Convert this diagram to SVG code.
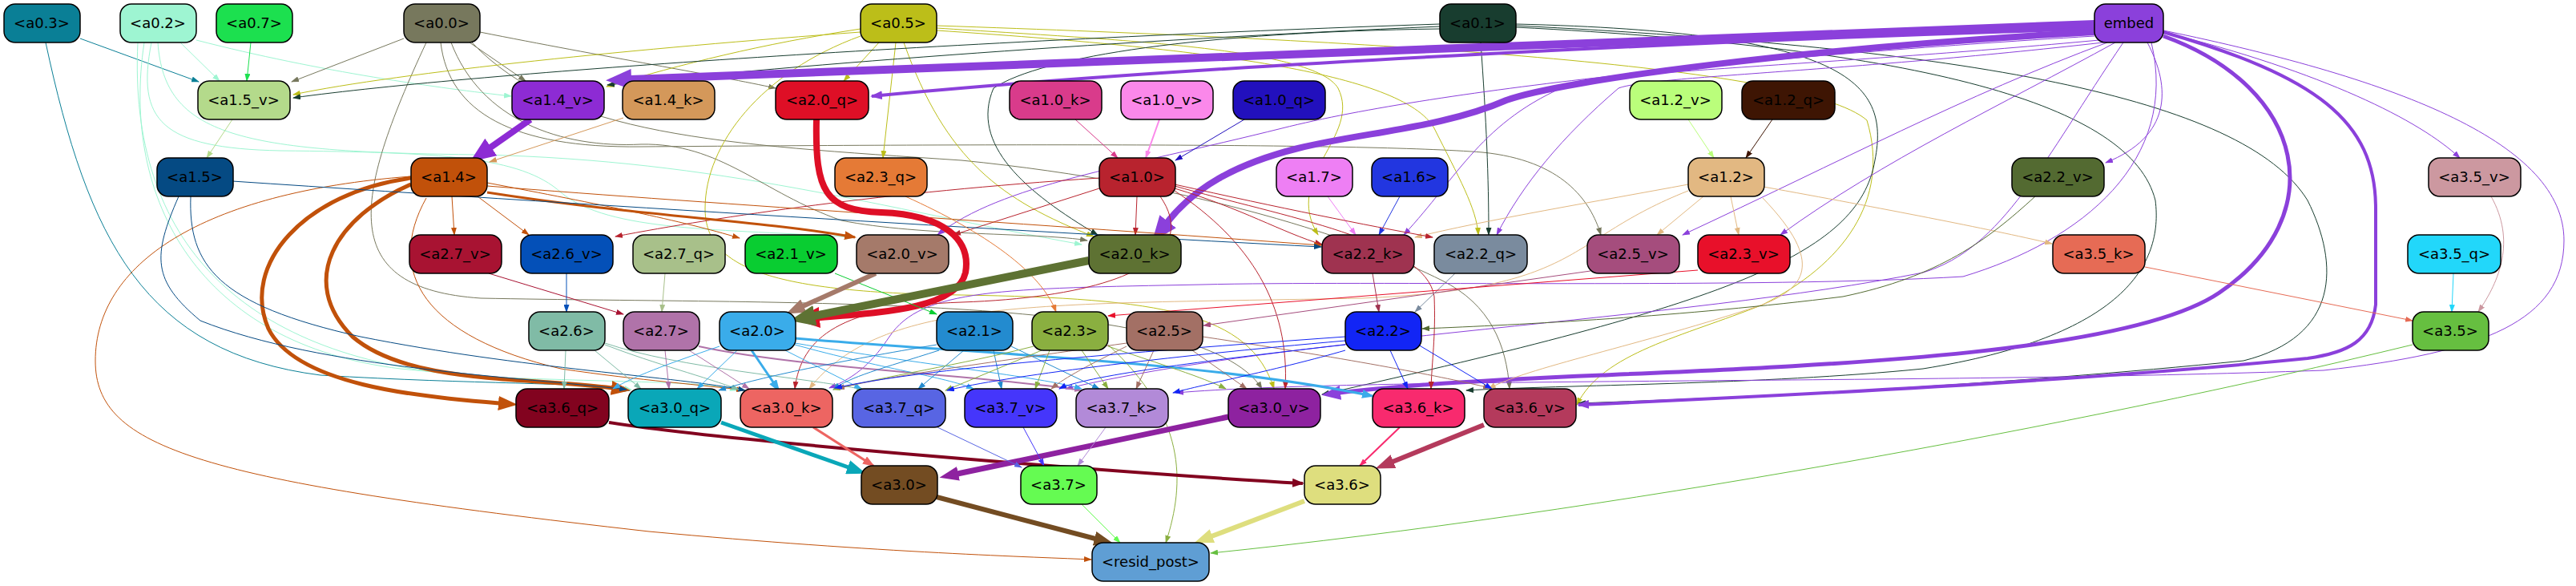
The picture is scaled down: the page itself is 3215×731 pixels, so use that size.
<svg xmlns="http://www.w3.org/2000/svg" width="3215" height="731" viewBox="0 0 3215 731">
<style>
.e{fill:none;marker-end:url(#s)}
.m{marker-end:url(#m)}
.l{marker-end:url(#l)}
.x{marker-end:url(#xl)}
.n rect{stroke:#000;stroke-width:1.5}
.n text{font-family:"DejaVu Sans",sans-serif;font-size:18px;text-anchor:middle;fill:#000}
</style>
<defs>
<marker id="s" viewBox="0 0 10 7" refX="9" refY="3.5" markerWidth="10" markerHeight="7" orient="auto" markerUnits="userSpaceOnUse"><path d="M0,0L10,3.5L0,7z" fill="context-stroke"/></marker>
<marker id="m" viewBox="0 0 15 11" refX="13" refY="5.5" markerWidth="15" markerHeight="11" orient="auto" markerUnits="userSpaceOnUse"><path d="M0,0L15,5.5L0,11z" fill="context-stroke"/></marker>
<marker id="l" viewBox="0 0 24 18" refX="1" refY="9" markerWidth="24" markerHeight="18" orient="auto" markerUnits="userSpaceOnUse"><path d="M0,0L24,9L0,18z" fill="context-stroke"/></marker>
<marker id="xl" viewBox="0 0 32 26" refX="1" refY="13" markerWidth="32" markerHeight="26" orient="auto" markerUnits="userSpaceOnUse"><path d="M0,0L32,13L0,26z" fill="context-stroke"/></marker>
</defs>
<rect width="3215" height="731" fill="#fff"/>
<g id="edges">
<path class="e" stroke="#0a7f96" d="M100,48 L248,102"/>
<path class="e" stroke="#0a7f96" d="M57,53 C110,300 180,440 400,468 C600,480 720,476 786,487"/>
<path class="e" stroke="#9ef5d2" d="M225,53 L274,101"/>
<path class="e" stroke="#9ef5d2" d="M245,50 C400,90 550,110 638,120"/>
<path class="e" stroke="#9ef5d2" d="M189,53 C170,150 200,185 350,188 C550,190 650,195 700,240 C760,290 900,285 1064,296"/>
<path class="e" stroke="#9ef5d2" d="M197,53 C205,170 300,190 600,193 C900,200 1100,260 1350,305"/>
<path class="e" stroke="#9ef5d2" d="M180,53 C150,250 250,430 500,460 C650,475 720,475 788,486"/>
<path class="e" stroke="#9ef5d2" d="M172,53 C160,300 300,450 600,470 C800,478 880,475 920,487"/>
<path class="e" stroke="#1ce04f" d="M313,53 L308,101"/>
<path class="e" stroke="#77785d" d="M504,48 L364,102"/>
<path class="e" stroke="#77785d" d="M586,53 L656,101"/>
<path class="e" stroke="#77785d" d="M599,40 C750,70 900,95 968,110"/>
<path class="e" stroke="#77785d" d="M563,53 C600,150 700,185 800,180 C900,178 950,240 1050,275 C1150,295 1300,290 1357,300"/>
<path class="e" stroke="#77785d" d="M550,53 C560,140 640,185 800,183 C1200,180 1700,178 1850,190 C1950,200 1985,250 1998,293"/>
<path class="e" stroke="#77785d" d="M532,53 C440,250 420,360 600,372 C1000,380 1500,365 1575,485"/>
<path class="e" stroke="#77785d" d="M589,53 C700,170 900,180 1200,200 C1500,230 1700,300 1800,350 C1860,380 1880,430 1884,485"/>
<path class="e" stroke="#bcbe19" d="M1074,40 C800,60 500,90 366,118"/>
<path class="e" stroke="#bcbe19" d="M1074,36 C950,55 850,80 757,108"/>
<path class="e" stroke="#bcbe19" d="M1097,53 L1053,101"/>
<path class="e" stroke="#bcbe19" d="M1118,53 L1102,197"/>
<path class="e" stroke="#bcbe19" d="M1128,53 C1180,200 1250,250 1365,295"/>
<path class="e" stroke="#bcbe19" d="M1074,45 C950,90 880,180 880,260 C880,330 950,365 1200,368 C1450,372 1560,390 1590,485"/>
<path class="e" stroke="#bcbe19" d="M1169,35 C1400,50 1640,60 1670,110 C1700,170 1600,220 1645,293"/>
<path class="e" stroke="#bcbe19" d="M1169,38 C1500,60 1750,90 1790,160 C1820,220 1843,260 1845,293"/>
<path class="e" stroke="#bcbe19" d="M1169,32 C1700,50 2250,80 2330,150 C2360,250 2300,330 2200,380 C2100,420 2000,440 1968,505"/>
<path class="e" stroke="#183d2f" d="M1797,30 C1200,50 600,90 366,122"/>
<path class="e" stroke="#183d2f" d="M1797,33 C1400,50 1000,80 758,106"/>
<path class="e" stroke="#183d2f" d="M1797,36 C1500,40 1300,70 1240,110 C1210,180 1280,240 1370,293"/>
<path class="e" stroke="#183d2f" d="M1848,53 C1855,150 1858,220 1858,293"/>
<path class="e" stroke="#183d2f" d="M1892,30 C2300,40 2360,100 2340,200 C2320,320 2150,380 1650,492"/>
<path class="e" stroke="#183d2f" d="M1892,34 C2400,60 2660,130 2690,250 C2700,330 2650,420 2400,460 C2200,480 1950,480 1830,487"/>
<path class="e" stroke="#183d2f" d="M1892,32 C2450,60 2800,120 2880,250 C2920,330 2920,420 2800,450 C2500,480 2200,495 1970,503"/>
<path class="e x" stroke="#8b40db" stroke-width="10" d="M2614,30 L787,99"/>
<path class="e m" stroke="#8b40db" stroke-width="4" d="M2614,36 C2200,48 1500,80 1088,120"/>
<path class="e x" stroke="#8b40db" stroke-width="8" d="M2614,40 C2250,60 1950,100 1880,125 C1800,160 1700,165 1620,185 C1540,205 1490,235 1457,277"/>
<path class="e" stroke="#8b40db" d="M2614,45 C2200,70 1800,110 1600,160 C1400,210 1250,230 1170,293"/>
<path class="e" stroke="#8b40db" d="M2620,50 C2300,80 2000,90 1960,105 C1850,150 1820,220 1752,293"/>
<path class="e" stroke="#8b40db" d="M2625,53 C2300,90 2060,95 2020,110 C1950,170 1900,230 1868,293"/>
<path class="e" stroke="#8b40db" d="M2630,53 C2450,120 2300,200 2100,293"/>
<path class="e" stroke="#8b40db" d="M2640,53 C2500,130 2350,200 2222,293"/>
<path class="e" stroke="#8b40db" d="M2680,53 C2710,110 2710,170 2628,203"/>
<path class="e" stroke="#8b40db" d="M2700,40 C2900,90 3020,150 3070,197"/>
<path class="e" stroke="#8b40db" d="M2685,53 C2720,200 2600,300 2450,345 C2200,360 1700,350 1500,355 C1250,360 1150,360 1110,420 C1090,450 1070,470 1035,484"/>
<path class="e" stroke="#8b40db" d="M2650,53 C2550,200 2500,310 2400,340 C2100,400 1600,420 1330,485"/>
<path class="e" stroke="#8b40db" d="M2700,38 C3000,100 3200,180 3200,300 C3200,400 3100,440 2900,462 C2400,480 1700,470 1468,490"/>
<path class="e l" stroke="#8b40db" stroke-width="5" d="M2700,45 C2880,110 2910,270 2770,365 C2660,440 2300,455 2000,468 C1800,476 1720,484 1672,490"/>
<path class="e m" stroke="#8b40db" stroke-width="4" d="M2700,40 C2890,95 2965,150 2965,260 L2965,380 C2960,425 2930,440 2880,447 C2600,475 2200,495 1970,505"/>
<path class="e" stroke="#b4da8b" d="M290,149 L258,197"/>
<path class="e x" stroke="#8d2bd4" stroke-width="8" d="M662,149 L612,184"/>
<path class="e" stroke="#d4985a" d="M778,147 L611,202"/>
<path class="e" stroke="#d93b8b" d="M1342,149 L1395,197"/>
<path class="e" stroke="#fb88ea" stroke-width="2" d="M1447,149 L1430,197"/>
<path class="e" stroke="#2210bd" d="M1553,149 L1467,200"/>
<path class="e" stroke="#bafe7b" d="M2107,149 L2139,197"/>
<path class="e" stroke="#3e1503" d="M2212,149 L2179,197"/>
<path class="e" stroke="#ee7ff4" d="M1657,245 L1692,293"/>
<path class="e" stroke="#2236e0" d="M1747,245 L1721,293"/>
<path class="e" stroke="#e2b882" d="M2107,230 C2000,250 1850,275 1766,296"/>
<path class="e" stroke="#e2b882" d="M2126,245 L2068,293"/>
<path class="e" stroke="#e2b882" d="M2160,245 L2170,293"/>
<path class="e" stroke="#e2b882" d="M2201,233 C2350,260 2480,285 2561,304"/>
<path class="e" stroke="#e2b882" d="M2107,238 C1950,300 1980,360 1700,372 C1300,380 1100,370 1010,485"/>
<path class="e" stroke="#e2b882" d="M2200,247 C2280,330 2250,360 2200,380 C2050,430 1900,460 1858,485"/>
<path class="e" stroke="#b8232e" d="M1419,245 L1417,293"/>
<path class="e" stroke="#b8232e" d="M1372,235 L1190,293"/>
<path class="e" stroke="#b8232e" d="M1466,230 C1600,260 1700,280 1788,296"/>
<path class="e" stroke="#b8232e" d="M1466,235 C1550,260 1600,290 1650,305"/>
<path class="e" stroke="#b8232e" d="M1372,222 C1100,240 900,270 768,295"/>
<path class="e" stroke="#b8232e" d="M1448,245 C1500,320 1400,370 1200,377 C1050,382 1000,420 992,485"/>
<path class="e" stroke="#b8232e" d="M1466,238 C1560,300 1610,380 1604,485"/>
<path class="e" stroke="#b8232e" d="M1466,232 C1600,270 1780,300 1790,370 C1792,420 1787,450 1786,485"/>
<path class="e" stroke="#c1510a" d="M564,245 L567,293"/>
<path class="e" stroke="#c1510a" d="M596,245 L660,293"/>
<path class="e" stroke="#c1510a" d="M608,228 C750,255 850,275 923,297"/>
<path class="e m" stroke="#c1510a" stroke-width="3" d="M608,240 C800,270 950,275 1067,296"/>
<path class="e" stroke="#c1510a" d="M608,232 C900,255 1300,280 1649,306"/>
<path class="e l" stroke="#c1510a" stroke-width="5" d="M513,222 C380,240 300,330 335,410 C370,480 520,495 623,503"/>
<path class="e l" stroke="#c1510a" stroke-width="5" d="M513,230 C420,270 370,350 440,420 C510,480 660,470 764,484"/>
<path class="e" stroke="#c1510a" d="M513,220 C250,240 119,330 119,450 C119,560 250,600 810,663 C1100,690 1300,695 1362,698"/>
<path class="e" stroke="#c1510a" d="M532,247 C480,340 530,420 700,460 C800,475 880,480 928,487"/>
<path class="e" stroke="#054a83" d="M290,226 C800,260 1300,290 1649,308"/>
<path class="e" stroke="#054a83" d="M223,245 C190,320 190,350 250,400 C400,460 650,470 782,486"/>
<path class="e" stroke="#054a83" d="M238,245 C235,330 270,380 450,420 C650,460 850,470 930,487"/>
<path class="e x" stroke="#de0f26" stroke-width="8" d="M1019,149 C1017,240 1030,262 1100,265 C1180,268 1212,300 1205,340 C1195,385 1100,390 1022,396"/>
<path class="e" stroke="#e57a36" d="M1130,245 C1230,290 1300,340 1318,389"/>
<path class="e" stroke="#a81332" d="M610,341 L778,392"/>
<path class="e" stroke="#0450b8" d="M707,341 L707,389"/>
<path class="e" stroke="#a8c08a" d="M830,341 L826,389"/>
<path class="e" stroke="#09cd31" d="M1042,341 L1169,392"/>
<path class="e l" stroke="#a57a6a" stroke-width="6" d="M1093,341 L1002,382"/>
<path class="e x" stroke="#5e7233" stroke-width="10" d="M1359,325 L1016,394"/>
<path class="e" stroke="#9f3350" d="M1713,341 L1721,389"/>
<path class="e" stroke="#7a8b9e" d="M1816,341 L1766,389"/>
<path class="e" stroke="#a54d7d" d="M1985,338 L1502,406"/>
<path class="e" stroke="#e8102a" d="M2119,337 L1383,394"/>
<path class="e" stroke="#536a31" d="M2540,245 C2480,300 2420,345 2300,370 C2100,395 1900,405 1775,410"/>
<path class="e" stroke="#e66b55" d="M2677,333 L3011,400"/>
<path class="e" stroke="#22d7fa" d="M3062,341 L3060,389"/>
<path class="e" stroke="#cc98a0" d="M3109,245 C3140,300 3120,350 3093,389"/>
<path class="e" stroke="#80bba6" d="M706,437 L704,485"/>
<path class="e" stroke="#80bba6" d="M742,437 L800,485"/>
<path class="e" stroke="#80bba6" d="M755,430 C820,455 880,470 922,486"/>
<path class="e" stroke="#80bba6" d="M755,428 C850,460 1000,470 1078,486"/>
<path class="e" stroke="#b073a9" d="M830,437 L835,485"/>
<path class="e" stroke="#b073a9" d="M860,437 L935,485"/>
<path class="e" stroke="#b073a9" stroke-width="2" d="M872,432 C1000,460 1250,470 1350,487"/>
<path class="e" stroke="#3aacea" d="M920,437 L870,485"/>
<path class="e" stroke="#3aacea" d="M898,432 C830,455 790,470 765,485"/>
<path class="e m" stroke="#3aacea" stroke-width="3" d="M938,437 L972,487"/>
<path class="e" stroke="#3aacea" d="M980,437 L1075,485"/>
<path class="e" stroke="#3aacea" d="M992,430 C1100,460 1180,470 1215,485"/>
<path class="e" stroke="#3aacea" d="M992,428 C1150,455 1300,470 1350,485"/>
<path class="e m" stroke="#3aacea" stroke-width="3" d="M992,422 C1200,440 1500,450 1713,494"/>
<path class="e" stroke="#238bcf" d="M1169,430 C1050,450 950,470 897,487"/>
<path class="e" stroke="#238bcf" d="M1172,437 C1100,460 1060,470 1040,486"/>
<path class="e" stroke="#238bcf" d="M1203,437 L1146,485"/>
<path class="e" stroke="#238bcf" d="M1240,437 L1250,485"/>
<path class="e" stroke="#238bcf" d="M1262,432 L1372,485"/>
<path class="e" stroke="#8aaf40" d="M1290,432 C1200,455 1100,470 1040,486"/>
<path class="e" stroke="#8aaf40" d="M1300,437 L1180,487"/>
<path class="e" stroke="#8aaf40" d="M1310,437 L1292,485"/>
<path class="e" stroke="#8aaf40" d="M1350,437 L1383,485"/>
<path class="e" stroke="#8aaf40" d="M1383,432 C1450,455 1500,470 1530,485"/>
<path class="e" stroke="#8aaf40" d="M1383,430 C1480,520 1480,600 1455,677"/>
<path class="e" stroke="#a37065" d="M1406,432 C1360,455 1330,470 1312,485"/>
<path class="e" stroke="#a37065" d="M1440,437 L1418,485"/>
<path class="e" stroke="#a37065" d="M1488,437 L1556,485"/>
<path class="e" stroke="#a37065" d="M1501,420 C1700,450 1800,470 1860,484"/>
<path class="e" stroke="#a37065" d="M1406,428 C1250,450 1100,470 1045,485"/>
<path class="e" stroke="#1225f5" d="M1679,420 C1400,440 1150,460 1042,484"/>
<path class="e" stroke="#1225f5" d="M1679,425 C1450,445 1250,470 1182,487"/>
<path class="e" stroke="#1225f5" d="M1679,430 C1500,450 1350,470 1322,485"/>
<path class="e" stroke="#1225f5" d="M1679,437 C1600,460 1500,480 1464,490"/>
<path class="e" stroke="#1225f5" d="M1735,437 L1757,485"/>
<path class="e" stroke="#1225f5" d="M1770,430 L1862,485"/>
<path class="e m" stroke="#82031f" stroke-width="4" d="M760,527 C900,550 1400,590 1626,603"/>
<path class="e l" stroke="#0aa7b8" stroke-width="5" d="M900,527 L1059,583"/>
<path class="e m" stroke="#ed6562" stroke-width="3" d="M1015,533 L1090,581"/>
<path class="e l" stroke="#8e22a0" stroke-width="7" d="M1533,520 L1195,591"/>
<path class="e" stroke="#5865e3" d="M1170,533 L1275,583"/>
<path class="e" stroke="#4536fb" d="M1277,533 L1303,581"/>
<path class="e" stroke="#b28ad8" d="M1380,533 L1345,581"/>
<path class="e" stroke="#f82a6e" stroke-width="2" d="M1747,533 L1697,581"/>
<path class="e l" stroke="#b43a5c" stroke-width="6" d="M1852,530 L1738,576"/>
<path class="e l" stroke="#734c22" stroke-width="6" d="M1169,620 L1367,672"/>
<path class="e" stroke="#65fb52" d="M1350,629 L1398,677"/>
<path class="e l" stroke="#dede7e" stroke-width="6" d="M1628,625 L1512,669"/>
<path class="e" stroke="#66bf40" d="M3011,430 C2600,530 2000,640 1511,690"/>
</g>
<g id="a0_3" class="n"><rect x="5" y="5" width="95" height="48" rx="14" fill="#0a7f96"/><text x="52" y="35">&lt;a0.3&gt;</text></g>
<g id="a0_2" class="n"><rect x="150" y="5" width="95" height="48" rx="14" fill="#9ef5d2"/><text x="197" y="35">&lt;a0.2&gt;</text></g>
<g id="a0_7" class="n"><rect x="270" y="5" width="95" height="48" rx="14" fill="#1ce04f"/><text x="317" y="35">&lt;a0.7&gt;</text></g>
<g id="a0_0" class="n"><rect x="504" y="5" width="95" height="48" rx="14" fill="#77785d"/><text x="551" y="35">&lt;a0.0&gt;</text></g>
<g id="a0_5" class="n"><rect x="1074" y="5" width="95" height="48" rx="14" fill="#bcbe19"/><text x="1121" y="35">&lt;a0.5&gt;</text></g>
<g id="a0_1" class="n"><rect x="1797" y="5" width="95" height="48" rx="14" fill="#183d2f"/><text x="1844" y="35">&lt;a0.1&gt;</text></g>
<g id="embed" class="n"><rect x="2614" y="5" width="86" height="48" rx="14" fill="#8b40db"/><text x="2657" y="35">embed</text></g>
<g id="a1_5_v" class="n"><rect x="247" y="101" width="115" height="48" rx="14" fill="#b4da8b"/><text x="304" y="131">&lt;a1.5_v&gt;</text></g>
<g id="a1_4_v" class="n"><rect x="639" y="101" width="115" height="48" rx="14" fill="#8d2bd4"/><text x="696" y="131">&lt;a1.4_v&gt;</text></g>
<g id="a1_4_k" class="n"><rect x="777" y="101" width="115" height="48" rx="14" fill="#d4985a"/><text x="834" y="131">&lt;a1.4_k&gt;</text></g>
<g id="a2_0_q" class="n"><rect x="968" y="101" width="116" height="48" rx="14" fill="#de0f26"/><text x="1026" y="131">&lt;a2.0_q&gt;</text></g>
<g id="a1_0_k" class="n"><rect x="1260" y="101" width="115" height="48" rx="14" fill="#d93b8b"/><text x="1317" y="131">&lt;a1.0_k&gt;</text></g>
<g id="a1_0_v" class="n"><rect x="1399" y="101" width="115" height="48" rx="14" fill="#fb88ea"/><text x="1456" y="131">&lt;a1.0_v&gt;</text></g>
<g id="a1_0_q" class="n"><rect x="1539" y="101" width="115" height="48" rx="14" fill="#2210bd"/><text x="1596" y="131">&lt;a1.0_q&gt;</text></g>
<g id="a1_2_v" class="n"><rect x="2034" y="101" width="115" height="48" rx="14" fill="#bafe7b"/><text x="2091" y="131">&lt;a1.2_v&gt;</text></g>
<g id="a1_2_q" class="n"><rect x="2174" y="101" width="116" height="48" rx="14" fill="#3e1503"/><text x="2232" y="131">&lt;a1.2_q&gt;</text></g>
<g id="a1_5" class="n"><rect x="196" y="197" width="95" height="48" rx="14" fill="#054a83"/><text x="243" y="227">&lt;a1.5&gt;</text></g>
<g id="a1_4" class="n"><rect x="513" y="197" width="95" height="48" rx="14" fill="#c1510a"/><text x="560" y="227">&lt;a1.4&gt;</text></g>
<g id="a2_3_q" class="n"><rect x="1042" y="197" width="115" height="48" rx="14" fill="#e57a36"/><text x="1099" y="227">&lt;a2.3_q&gt;</text></g>
<g id="a1_0" class="n"><rect x="1372" y="197" width="95" height="48" rx="14" fill="#b8232e"/><text x="1419" y="227">&lt;a1.0&gt;</text></g>
<g id="a1_7" class="n"><rect x="1593" y="197" width="95" height="48" rx="14" fill="#ee7ff4"/><text x="1640" y="227">&lt;a1.7&gt;</text></g>
<g id="a1_6" class="n"><rect x="1712" y="197" width="95" height="48" rx="14" fill="#2236e0"/><text x="1759" y="227">&lt;a1.6&gt;</text></g>
<g id="a1_2" class="n"><rect x="2107" y="197" width="95" height="48" rx="14" fill="#e2b882"/><text x="2154" y="227">&lt;a1.2&gt;</text></g>
<g id="a2_2_v" class="n"><rect x="2511" y="197" width="115" height="48" rx="14" fill="#536a31"/><text x="2568" y="227">&lt;a2.2_v&gt;</text></g>
<g id="a3_5_v" class="n"><rect x="3031" y="197" width="115" height="48" rx="14" fill="#cc98a0"/><text x="3088" y="227">&lt;a3.5_v&gt;</text></g>
<g id="a2_7_v" class="n"><rect x="511" y="293" width="115" height="48" rx="14" fill="#a81332"/><text x="568" y="323">&lt;a2.7_v&gt;</text></g>
<g id="a2_6_v" class="n"><rect x="650" y="293" width="115" height="48" rx="14" fill="#0450b8"/><text x="707" y="323">&lt;a2.6_v&gt;</text></g>
<g id="a2_7_q" class="n"><rect x="790" y="293" width="115" height="48" rx="14" fill="#a8c08a"/><text x="847" y="323">&lt;a2.7_q&gt;</text></g>
<g id="a2_1_v" class="n"><rect x="930" y="293" width="115" height="48" rx="14" fill="#09cd31"/><text x="987" y="323">&lt;a2.1_v&gt;</text></g>
<g id="a2_0_v" class="n"><rect x="1069" y="293" width="115" height="48" rx="14" fill="#a57a6a"/><text x="1126" y="323">&lt;a2.0_v&gt;</text></g>
<g id="a2_0_k" class="n"><rect x="1359" y="293" width="115" height="48" rx="14" fill="#5e7233"/><text x="1416" y="323">&lt;a2.0_k&gt;</text></g>
<g id="a2_2_k" class="n"><rect x="1650" y="293" width="115" height="48" rx="14" fill="#9f3350"/><text x="1707" y="323">&lt;a2.2_k&gt;</text></g>
<g id="a2_2_q" class="n"><rect x="1790" y="293" width="116" height="48" rx="14" fill="#7a8b9e"/><text x="1848" y="323">&lt;a2.2_q&gt;</text></g>
<g id="a2_5_v" class="n"><rect x="1981" y="293" width="115" height="48" rx="14" fill="#a54d7d"/><text x="2038" y="323">&lt;a2.5_v&gt;</text></g>
<g id="a2_3_v" class="n"><rect x="2119" y="293" width="115" height="48" rx="14" fill="#e8102a"/><text x="2176" y="323">&lt;a2.3_v&gt;</text></g>
<g id="a3_5_k" class="n"><rect x="2562" y="293" width="115" height="48" rx="14" fill="#e66b55"/><text x="2619" y="323">&lt;a3.5_k&gt;</text></g>
<g id="a3_5_q" class="n"><rect x="3005" y="293" width="116" height="48" rx="14" fill="#22d7fa"/><text x="3063" y="323">&lt;a3.5_q&gt;</text></g>
<g id="a2_6" class="n"><rect x="660" y="389" width="95" height="48" rx="14" fill="#80bba6"/><text x="707" y="419">&lt;a2.6&gt;</text></g>
<g id="a2_7" class="n"><rect x="778" y="389" width="95" height="48" rx="14" fill="#b073a9"/><text x="825" y="419">&lt;a2.7&gt;</text></g>
<g id="a2_0" class="n"><rect x="898" y="389" width="95" height="48" rx="14" fill="#3aacea"/><text x="945" y="419">&lt;a2.0&gt;</text></g>
<g id="a2_1" class="n"><rect x="1169" y="389" width="95" height="48" rx="14" fill="#238bcf"/><text x="1216" y="419">&lt;a2.1&gt;</text></g>
<g id="a2_3" class="n"><rect x="1288" y="389" width="95" height="48" rx="14" fill="#8aaf40"/><text x="1335" y="419">&lt;a2.3&gt;</text></g>
<g id="a2_5" class="n"><rect x="1406" y="389" width="95" height="48" rx="14" fill="#a37065"/><text x="1453" y="419">&lt;a2.5&gt;</text></g>
<g id="a2_2" class="n"><rect x="1679" y="389" width="95" height="48" rx="14" fill="#1225f5"/><text x="1726" y="419">&lt;a2.2&gt;</text></g>
<g id="a3_5" class="n"><rect x="3011" y="389" width="95" height="48" rx="14" fill="#66bf40"/><text x="3058" y="419">&lt;a3.5&gt;</text></g>
<g id="a3_6_q" class="n"><rect x="644" y="485" width="116" height="48" rx="14" fill="#82031f"/><text x="702" y="515">&lt;a3.6_q&gt;</text></g>
<g id="a3_0_q" class="n"><rect x="784" y="485" width="116" height="48" rx="14" fill="#0aa7b8"/><text x="842" y="515">&lt;a3.0_q&gt;</text></g>
<g id="a3_0_k" class="n"><rect x="924" y="485" width="115" height="48" rx="14" fill="#ed6562"/><text x="981" y="515">&lt;a3.0_k&gt;</text></g>
<g id="a3_7_q" class="n"><rect x="1064" y="485" width="116" height="48" rx="14" fill="#5865e3"/><text x="1122" y="515">&lt;a3.7_q&gt;</text></g>
<g id="a3_7_v" class="n"><rect x="1204" y="485" width="115" height="48" rx="14" fill="#4536fb"/><text x="1261" y="515">&lt;a3.7_v&gt;</text></g>
<g id="a3_7_k" class="n"><rect x="1343" y="485" width="115" height="48" rx="14" fill="#b28ad8"/><text x="1400" y="515">&lt;a3.7_k&gt;</text></g>
<g id="a3_0_v" class="n"><rect x="1533" y="485" width="115" height="48" rx="14" fill="#8e22a0"/><text x="1590" y="515">&lt;a3.0_v&gt;</text></g>
<g id="a3_6_k" class="n"><rect x="1713" y="485" width="115" height="48" rx="14" fill="#f82a6e"/><text x="1770" y="515">&lt;a3.6_k&gt;</text></g>
<g id="a3_6_v" class="n"><rect x="1852" y="485" width="115" height="48" rx="14" fill="#b43a5c"/><text x="1909" y="515">&lt;a3.6_v&gt;</text></g>
<g id="a3_0" class="n"><rect x="1075" y="581" width="95" height="48" rx="14" fill="#734c22"/><text x="1122" y="611">&lt;a3.0&gt;</text></g>
<g id="a3_7" class="n"><rect x="1274" y="581" width="95" height="48" rx="14" fill="#65fb52"/><text x="1321" y="611">&lt;a3.7&gt;</text></g>
<g id="a3_6" class="n"><rect x="1628" y="581" width="95" height="48" rx="14" fill="#dede7e"/><text x="1675" y="611">&lt;a3.6&gt;</text></g>
<g id="resid_post" class="n"><rect x="1363" y="677" width="146" height="48" rx="14" fill="#5f9ed4"/><text x="1436" y="707">&lt;resid_post&gt;</text></g>
</svg>
